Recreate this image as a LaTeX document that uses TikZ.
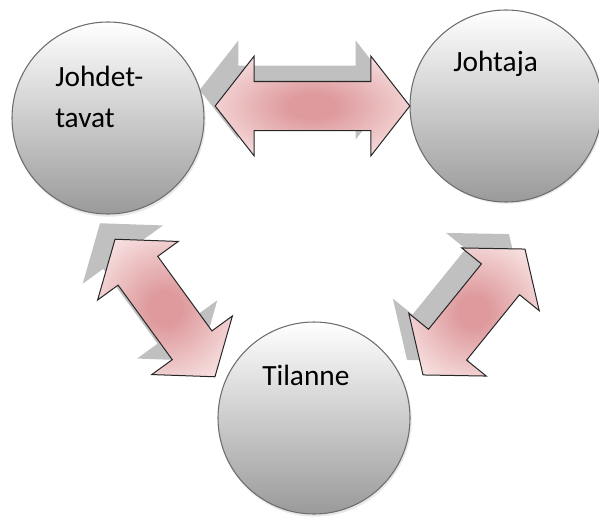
\documentclass[tikz,border=0pt]{standalone}
\usepackage{fontspec}
\setmainfont{Carlito}
\usetikzlibrary{shapes.arrows}
\definecolor{ringline}{HTML}{6E6E6E}
\definecolor{ballbottom}{HTML}{9A9A9A}
\definecolor{arrowcore}{HTML}{DE9A9D}
\definecolor{arrowrim}{HTML}{FAE8E8}
\definecolor{dropgray}{HTML}{C0C0C0}
% pink glow that fades towards both arrow tips
\pgfdeclareradialshading{pinkglow}{\pgfpoint{0bp}{0bp}}{%
  color(0bp)=(arrowcore); color(6bp)=(arrowcore);
  color(33bp)=(arrowrim); color(50bp)=(arrowrim)}
\tikzset{
  ball/.style={circle, draw=ringline, line width=0.8pt, minimum size=144pt,
    inner sep=0pt, top color=white, bottom color=ballbottom},
  ballshade/.style={circle, fill=black!30, opacity=0.3, minimum size=145pt,
    inner sep=0pt},
  tag/.style={inner sep=0pt, anchor=base west, font=\fontsize{22}{30.75}\selectfont,
    align=left},
  twoway/.style={double arrow, inner xsep=0pt, inner ysep=18pt,
    double arrow head extend=19pt, double arrow tip angle=104},
  twowayfill/.style={twoway, draw=black!85, line width=0.75pt, line join=miter,
    shading=pinkglow},
  twowaydrop/.style={twoway, fill=dropgray, draw=none},
}
\begin{document}
\begin{tikzpicture}[x=0.75pt, y=-0.75pt]
\useasboundingbox (0,0) rectangle (599,517);

% drop shadows of the double arrows
\node[twowaydrop, minimum height=146pt] (Hs) at (297,90) {};
\node[twowaydrop, minimum height=127.5pt, rotate=-54] (Ls) at (150,292) {};
\node[twowaydrop, minimum height=121.5pt, rotate=51] (Rs) at (458,297) {};

% soft shadows under the balls
\node[ballshade] (Js) at (109,120) {};
\node[ballshade] (As) at (507,107) {};
\node[ballshade] (Ts) at (315,420) {};

% the three balls
\node[ball] (J) at (108,118) {};
\node[ball] (A) at (506,106) {};
\node[ball] (T) at (314,418) {};

% double arrows between the balls
\node[twowayfill, minimum height=146pt] (H) at (312.5,106) {};
\node[twowayfill, minimum height=127.5pt, rotate=-54] (L) at (165,308) {};
\node[twowayfill, minimum height=121.5pt, rotate=51] (R) at (474,312) {};

% labels
\node[tag] (Jt) at (55,127) {Johdet-\\tavat};
\node[tag] (At) at (453,72) {Johtaja};
\node[tag] (Tt) at (262,385) {Tilanne};
\end{tikzpicture}
\end{document}
